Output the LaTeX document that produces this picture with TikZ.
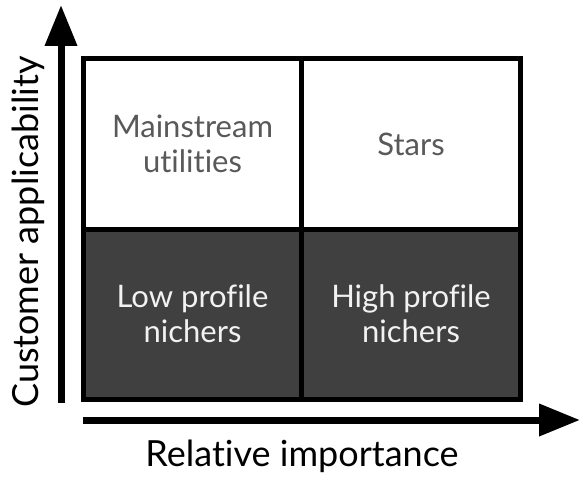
\documentclass[tikz,border=0pt]{standalone}
\usepackage{fontspec}
\setmainfont[Ligatures=NoCommon]{Lato}
\usetikzlibrary{arrows.meta, positioning}
\definecolor{quadgray}{HTML}{404040}
\definecolor{labgray}{HTML}{595959}
\definecolor{labwhite}{HTML}{F2F2F2}

\begin{document}
\begin{tikzpicture}[
  x=1pt, y=-1pt,
  font=\fontsize{31}{35}\selectfont,
  quad/.style={draw, line width=5pt, minimum width=219pt, minimum height=170pt,
               align=center, inner sep=0pt},
  light/.style={quad, fill=white, text=labgray},
  dark/.style={quad, fill=quadgray, text=labwhite},
  axis/.style={line width=7pt, -{Triangle[length=41pt, width=31pt]}},
  axlab/.style={font=\fontsize{36}{40}\selectfont, inner sep=0pt}
]
  \useasboundingbox (0,0) rectangle (585,489);

  \node[light] (main)  at (192.5,144) {Mainstream\\utilities};
  \node[light] (stars) at (411,144)   {Stars};
  \node[dark]  (low)   at (192.5,314) {Low profile\\nichers};
  \node[dark]  (high)  at (411,314)   {High profile\\nichers};

  \coordinate (yfoot) at (61,403);
  \coordinate (ytip)  at (61,5);
  \coordinate (xfoot) at (83,420);
  \coordinate (xtip)  at (580,420);
  \draw[axis] (yfoot) -- (ytip);
  \draw[axis] (xfoot) -- (xtip);

  \node[axlab, rotate=90] (ylab) at (28,232) {Customer applicability};
  \node[axlab] (xlab) at (302,456) {Relative importance};
\end{tikzpicture}
\end{document}
